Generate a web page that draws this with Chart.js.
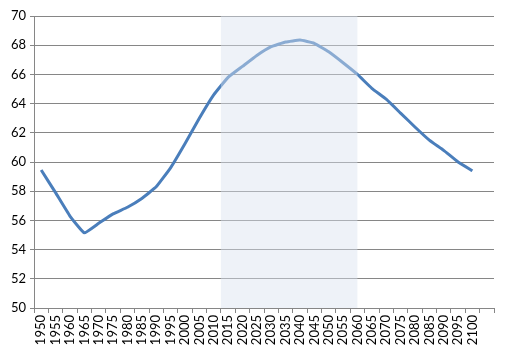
<!DOCTYPE html>
<html>
<head>
<meta charset="utf-8">
<script src="https://cdn.jsdelivr.net/npm/chart.js@4"></script>
<style>
  html, body { margin: 0; padding: 0; background: #fff; }
  #wrap { width: 509px; height: 352px; }
</style>
</head>
<body>
<div id="wrap"><canvas id="c" width="509" height="352"></canvas></div>
<script>
const years = ['1950','1955','1960','1965','1970','1975','1980','1985','1990','1995',
  '2000','2005','2010','2015','2020','2025','2030','2035','2040','2045',
  '2050','2055','2060','2065','2070','2075','2080','2085','2090','2095','2100',''];
const values = [59.45, 57.9, 56.3, 55.15, 55.8, 56.45, 56.9, 57.5, 58.3, 59.6,
  61.25, 63.0, 64.6, 65.8, 66.55, 67.3, 67.9, 68.22, 68.35, 68.13,
  67.55, 66.8, 66.0, 65.05, 64.3, 63.35, 62.4, 61.5, 60.8, 60.0, 59.4, null];
const yMin = 50, yMax = 70, yStep = 2;
const bandFrom = '2015';  // band begins at the category boundary before this year
const bandTo = '2060';    // band ends at this year's point

const bandPlugin = {
  id: 'band',
  afterDatasetsDraw(chart) {
    const x = chart.scales.x, area = chart.chartArea, ctx = chart.ctx;
    const i0 = years.indexOf(bandFrom), i1 = years.indexOf(bandTo);
    const left = (x.getPixelForValue(i0 - 1) + x.getPixelForValue(i0)) / 2;
    const right = x.getPixelForValue(i1);
    ctx.save();
    ctx.fillStyle = 'rgba(217,226,239,0.45)';
    ctx.fillRect(left, area.top, right - left, area.bottom - area.top);
    ctx.restore();
  }
};

new Chart(document.getElementById('c'), {
  type: 'line',
  data: {
    labels: years,
    datasets: [{
      data: values,
      borderColor: 'rgb(74,126,187)',
      borderWidth: 3,
      pointRadius: 0,
      tension: 0.1,
      fill: false
    }]
  },
  plugins: [bandPlugin],
  options: {
    responsive: false,
    animation: false,
    layout: { padding: { top: 16, right: 15, left: 0, bottom: 0 } },
    plugins: { legend: { display: false }, tooltip: { enabled: false } },
    scales: {
      x: {
        type: 'category',
        offset: true,
        afterFit(s) { s.height = 44; },
        grid: { display: true, offset: true, drawOnChartArea: false, drawTicks: true, tickLength: 5, color: '#868686' },
        border: { display: true, color: '#868686' },
        ticks: { autoSkip: false, minRotation: 90, maxRotation: 90, padding: 2,
          color: '#000', font: { family: 'Lato', size: 13 } }
      },
      y: {
        min: yMin, max: yMax,
        afterFit(s) { s.width = 34; },
        grid: { color: '#868686', lineWidth: 1, drawTicks: true, tickLength: 4 },
        border: { display: true, color: '#868686' },
        ticks: { stepSize: yStep, padding: 4, color: '#000', font: { family: 'Lato', size: 13 } }
      }
    }
  }
});
</script>
</body>
</html>
